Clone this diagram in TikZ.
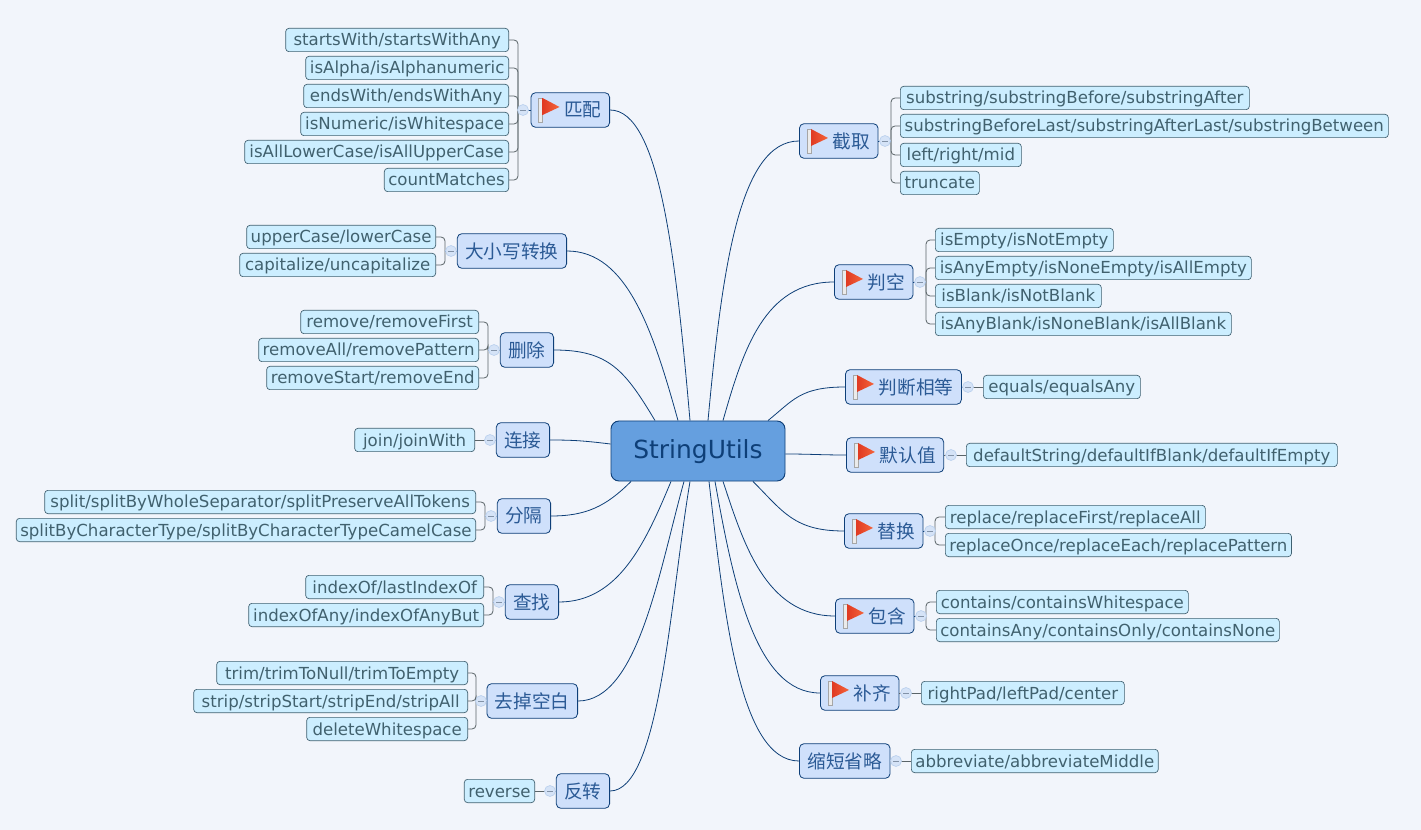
\documentclass[tikz,border=0pt]{standalone}
\usepackage{fontspec}
\setmainfont{DejaVu Sans}
\newfontfamily\cjk{Noto Sans CJK SC}
\usetikzlibrary{calc}
\definecolor{paper}{HTML}{F2F5FB}
\definecolor{rootfill}{HTML}{659FDF}
\definecolor{navy}{HTML}{0E3F78}
\definecolor{topicfill}{HTML}{CFE0FB}
\definecolor{topicink}{HTML}{2B5A95}
\definecolor{leaffill}{HTML}{CCEEFF}
\definecolor{leafline}{HTML}{3F6070}
\definecolor{leafink}{HTML}{41616E}
\definecolor{twigline}{HTML}{5A6468}
\definecolor{foldfill}{HTML}{D5E3F7}
\definecolor{foldline}{HTML}{BAD0EE}
\definecolor{flagdark}{HTML}{E03A22}
\definecolor{flaglight}{HTML}{F4653C}
\tikzset{
  root/.style={rectangle, rounded corners=6pt, draw=navy, fill=rootfill, text=navy, font=\fontsize{18.7pt}{20pt}\selectfont, minimum width=130.5pt, minimum height=45pt, text height=13.6pt, text depth=3pt, line width=.7pt},
  topic/.style={rectangle, rounded corners=3.5pt, draw=navy, fill=topicfill, text=topicink, font=\fontsize{14pt}{16pt}\cjk, minimum height=26pt, inner xsep=6pt, inner ysep=0pt, line width=.6pt},
  flagged/.style={topic, execute at begin node={\hspace*{19pt}}},
  leaf/.style={rectangle, rounded corners=2.5pt, draw=leafline, fill=leaffill, text=leafink, font=\fontsize{12.45pt}{14pt}\selectfont, minimum height=17.5pt, text height=9pt, text depth=0pt, inner xsep=3pt, inner ysep=0pt, line width=.5pt},
  leafl/.style={leaf, anchor=east},
  leafr/.style={leaf, anchor=west},
  w/.style={minimum width=(#1-1)*.75pt},
  fold/.style={circle, draw=foldline, fill=foldfill, minimum size=8.2pt, inner sep=0pt, line width=.5pt, path picture={\draw[foldline!70!black, line width=.4pt] ($(path picture bounding box.center)+(-3,0)$) -- ($(path picture bounding box.center)+(3,0)$);}},
  branch/.style={navy, line width=.6pt},
  twig/.style={twigline, line width=.6pt, rounded corners=3pt},
  stub/.style={navy, line width=.6pt},
  flag/.pic={
    \draw[gray!70, fill=white!92!black, line width=.3pt] (8,-12) rectangle (12,12);
    \shade[left color=flagdark, right color=flaglight] (12,-12) -- (29,-3) -- (12,5) -- cycle;
  }
}
\begin{document}
\begin{tikzpicture}[x=.75pt, y=-.75pt]
\fill[paper] (0,0) rectangle (1421,830);
\useasboundingbox (0,0) rectangle (1421,830);
\node[root] (root) at (698,451) {StringUtils};
% left side
\node[flagged, anchor=east] (match) at (610,110) {匹配};
\node[topic, anchor=east] (letter) at (567,251) {大小写转换};
\node[topic, anchor=east] (remove) at (554,350) {删除};
\node[topic, anchor=east] (joint) at (550,440) {连接};
\node[topic, anchor=east] (split) at (551,516) {分隔};
\node[topic, anchor=east] (find) at (559,602) {查找};
\node[topic, anchor=east] (blank) at (578,701) {去掉空白};
\node[topic, anchor=east] (rev) at (610,791) {反转};
% right side
\node[flagged, anchor=west] (cut) at (799,141) {截取};
\node[flagged, anchor=west] (empty) at (834,282) {判空};
\node[flagged, anchor=west] (equal) at (845,387) {判断相等};
\node[flagged, anchor=west] (deflt) at (846,455) {默认值};
\node[flagged, anchor=west] (swap) at (844,531) {替换};
\node[flagged, anchor=west] (holds) at (835,616) {包含};
\node[flagged, anchor=west] (pad) at (820,693) {补齐};
\node[topic, anchor=west] (abbr) at (799,761) {缩短省略};
\foreach \n in {match,cut,empty,equal,deflt,swap,holds,pad} {
  \pic at (\n.west) {flag};
}
% leaves
\node[leafl, w=224] (m1) at (509,40) {startsWith/startsWithAny};
\node[leafl, w=204] (m2) at (509,68) {isAlpha/isAlphanumeric};
\node[leafl, w=206] (m3) at (509,96) {endsWith/endsWithAny};
\node[leafl, w=209] (m4) at (509,124) {isNumeric/isWhitespace};
\node[leafl, w=265] (m5) at (509,152) {isAllLowerCase/isAllUpperCase};
\node[leafl, w=124] (m6) at (509,180) {countMatches};
\node[leafl, w=190] (l1) at (436,237) {upperCase/lowerCase};
\node[leafl, w=197] (l2) at (436,265) {capitalize/uncapitalize};
\node[leafl, w=179] (r1) at (479,322) {remove/removeFirst};
\node[leafl, w=221] (r2) at (479,350) {removeAll/removePattern};
\node[leafl, w=213] (r3) at (479,378) {removeStart/removeEnd};
\node[leafl, w=121] (j1) at (475,440) {join/joinWith};
\node[leafl, w=432] (s1) at (476,502) {split/splitByWholeSeparator/splitPreserveAllTokens};
\node[leafl, w=458] (s2) at (476,530) {splitByCharacterType/splitByCharacterTypeCamelCase};
\node[leafl, w=179] (f1) at (484,587) {indexOf/lastIndexOf};
\node[leafl, w=236] (f2) at (484,615) {indexOfAny/indexOfAnyBut};
\node[leafl, w=252] (b1) at (468,673) {trim/trimToNull/trimToEmpty};
\node[leafl, w=275] (b2) at (468,701) {strip/stripStart/stripEnd/stripAll};
\node[leafl, w=162] (b3) at (468,729) {deleteWhitespace};
\node[leafl, w=71] (v1) at (535,791) {reverse};
\node[leafr, w=350] (c1) at (900,98) {substring/substringBefore/substringAfter};
\node[leafr, w=489] (c2) at (900,126) {substringBeforeLast/substringAfterLast/substringBetween};
\node[leafr, w=122] (c3) at (900,155) {left/right/mid};
\node[leafr, w=80] (c4) at (900,183) {truncate};
\node[leafr, w=179] (e1) at (935,240) {isEmpty/isNotEmpty};
\node[leafr, w=317] (e2) at (935,268) {isAnyEmpty/isNoneEmpty/isAllEmpty};
\node[leafr, w=167] (e3) at (935,296) {isBlank/isNotBlank};
\node[leafr, w=297] (e4) at (935,324) {isAnyBlank/isNoneBlank/isAllBlank};
\node[leafr, w=158] (q1) at (983,387) {equals/equalsAny};
\node[leafr, w=372] (d1) at (966,455) {defaultString/defaultIfBlank/defaultIfEmpty};
\node[leafr, w=261] (w1) at (945,517) {replace/replaceFirst/replaceAll};
\node[leafr, w=345] (w2) at (945,545) {replaceOnce/replaceEach/replacePattern};
\node[leafr, w=253] (h1) at (936,602) {contains/containsWhitespace};
\node[leafr, w=344] (h2) at (936,630) {containsAny/containsOnly/containsNone};
\node[leafr, w=204] (p1) at (921,693) {rightPad/leftPad/center};
\node[leafr, w=247] (a1) at (911,761) {abbreviate/abbreviateMiddle};
% fold marks, with the bar of each fork behind them
\coordinate (matchbar) at (518,110);
\coordinate (letterbar) at (445,251);
\coordinate (removebar) at (488,350);
\coordinate (splitbar) at (485,516);
\coordinate (findbar) at (493,602);
\coordinate (blankbar) at (476,701);
\coordinate (cutbar) at (891,141);
\coordinate (emptybar) at (926,282);
\coordinate (swapbar) at (935,531);
\coordinate (holdsbar) at (926,616);
\foreach \l in {m1,m2,m3,m4,m5,m6} {\draw[twig] (\l.east) -| (matchbar);}
\foreach \l in {l1,l2} {\draw[twig] (\l.east) -| (letterbar);}
\foreach \l in {r1,r2,r3} {\draw[twig] (\l.east) -| (removebar);}
\foreach \l in {s1,s2} {\draw[twig] (\l.east) -| (splitbar);}
\foreach \l in {f1,f2} {\draw[twig] (\l.east) -| (findbar);}
\foreach \l in {b1,b2,b3} {\draw[twig] (\l.east) -| (blankbar);}
\foreach \l in {c1,c2,c3,c4} {\draw[twig] (\l.west) -| (cutbar);}
\foreach \l in {e1,e2,e3,e4} {\draw[twig] (\l.west) -| (emptybar);}
\foreach \l in {w1,w2} {\draw[twig] (\l.west) -| (swapbar);}
\foreach \l in {h1,h2} {\draw[twig] (\l.west) -| (holdsbar);}
\draw[twig] (j1.east) -- (joint.west);
\draw[twig] (v1.east) -- (rev.west);
\draw[twig] (q1.west) -- (equal.east);
\draw[twig] (d1.west) -- (deflt.east);
\draw[twig] (p1.west) -- (pad.east);
\draw[twig] (a1.west) -- (abbr.east);
\draw[stub] (matchbar) -- (match.west);
\draw[stub] (letterbar) -- (letter.west);
\draw[stub] (removebar) -- (remove.west);
\draw[stub] (splitbar) -- (split.west);
\draw[stub] (findbar) -- (find.west);
\draw[stub] (blankbar) -- (blank.west);
\draw[stub] (cutbar) -- (cut.east);
\draw[stub] (emptybar) -- (empty.east);
\draw[stub] (swapbar) -- (swap.east);
\draw[stub] (holdsbar) -- (holds.east);
\foreach \n/\x/\y in {mf/523/110,lf/451/251,rf/494/350,jf/490/440,sf/491/516,ff/499/602,bf/481/701,vf/550/791,cf/885/141,ef/920/282,qf/968/387,df/951/455,wf/930/531,hf/921/616,pf/906/693,af/896/761} {
  \node[fold] (\n) at (\x,\y) {};
}
% branches
\draw[branch] (match.east) .. controls +(50,0) and +(-14,-160) .. ($(root.north)+(-8,0)$);
\draw[branch] (letter.east) .. controls +(60,0) and +(-25,-90) .. ($(root.north)+(-20,0)$);
\draw[branch] (remove.east) .. controls +(55,0) and +(-30,-50) .. ($(root.north)+(-43,0)$);
\draw[branch] (joint.east) .. controls +(25,0) and +(-25,-3) .. ($(root.west)+(0,-7)$);
\draw[branch] (split.east) .. controls +(35,0) and +(-25,25) .. ($(root.south)+(-67,0)$);
\draw[branch] (find.east) .. controls +(60,0) and +(-25,60) .. ($(root.south)+(-27,0)$);
\draw[branch] (blank.east) .. controls +(60,0) and +(-25,90) .. ($(root.south)+(-14,0)$);
\draw[branch] (rev.east) .. controls +(50,0) and +(-20,120) .. ($(root.south)+(-8,0)$);
\draw[branch] (cut.west) .. controls +(-60,0) and +(14,-150) .. ($(root.north)+(10,0)$);
\draw[branch] (empty.west) .. controls +(-70,0) and +(20,-70) .. ($(root.north)+(25,0)$);
\draw[branch] (equal.west) .. controls +(-45,0) and +(25,-20) .. ($(root.north)+(70,0)$);
\draw[branch] (deflt.west) .. controls +(-25,0) and +(25,0) .. ($(root.east)+(0,3)$);
\draw[branch] (swap.west) .. controls +(-50,0) and +(30,30) .. ($(root.south)+(55,0)$);
\draw[branch] (holds.west) .. controls +(-70,0) and +(20,60) .. ($(root.south)+(25,0)$);
\draw[branch] (pad.west) .. controls +(-65,0) and +(18,100) .. ($(root.south)+(17,0)$);
\draw[branch] (abbr.west) .. controls +(-60,0) and +(15,130) .. ($(root.south)+(11,0)$);
\end{tikzpicture}
\end{document}
